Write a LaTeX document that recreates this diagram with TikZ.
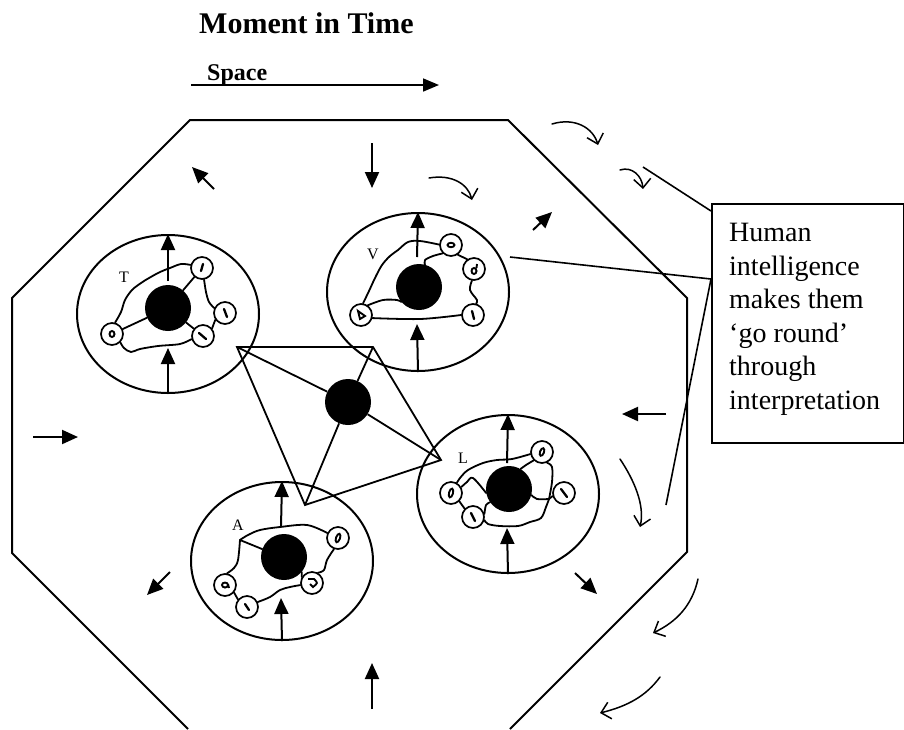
\documentclass[tikz,border=0pt]{standalone}
\usepackage{fontspec}
\setmainfont{Liberation Serif}
\usetikzlibrary{arrows.meta,shapes.geometric,calc}
\begin{document}
\begin{tikzpicture}[x=1pt,y=-1pt,
  frame/.style={line width=2pt, line join=miter},
  cell/.style={ellipse, draw, line width=2pt, minimum width=182pt, minimum height=158pt, inner sep=0pt},
  core/.style={circle, fill=black, minimum size=46pt, inner sep=0pt},
  bead/.style={circle, draw, fill=white, line width=1.7pt, minimum size=22pt, inner sep=0pt},
  wire/.style={line width=1.8pt, line join=round, line cap=round},
  glyph/.style={line width=2.3pt, line cap=round},
  loopy/.style={line width=1.9pt},
  push/.style={line width=2pt, -{Triangle[length=16pt,width=14pt]}},
  swirl/.style={line width=1.5pt, line cap=round, -{Straight Barb[length=9pt,width=17pt]}},
  tag/.style={font=\fontsize{16}{19}\selectfont, inner sep=0pt},
  lead/.style={line width=1.6pt},
]
\useasboundingbox (0,0) rectangle (904,729);

% heading and the space axis
\node[anchor=base west, inner sep=0pt, font=\fontsize{30}{35}\selectfont\bfseries] (title) at (199,33) {Moment in Time};
\node[anchor=base west, inner sep=0pt, font=\fontsize{24}{28}\selectfont\bfseries] (space) at (207,80) {Space};
\coordinate (axisL) at (191,85);
\coordinate (axisR) at (439,85);
\draw[line width=1.7pt, -{Triangle[length=16pt,width=13pt]}] (axisL) -- (axisR);

% octagonal boundary (open at the bottom edge)
\draw[frame] (188,729) -- (12,553) -- (12,298) -- (190,120) -- (508,120)
  -- (687,298) -- (687,552) -- (510,729);

% the four cells
\node[cell] (T) at (168,314) {};
\node[cell] (V) at (418,292) {};
\node[cell] (L) at (508,494) {};
\node[cell] (A) at (282,561) {};

% cores
\node[core] (Tc) at (168,308) {};
\node[core] (Vc) at (419,287) {};
\node[core] (Lc) at (509,489) {};
\node[core] (Ac) at (284,557) {};
\node[core] (hub) at (348,402) {};

% cell labels
\node[tag] (Tl) at (124,277) {T};
\node[tag] (Vl) at (373,254) {V};
\node[tag] (Ll) at (463,458) {L};
\node[tag] (Al) at (238,525) {A};

% beads
\node[bead] (T1) at (202,268) {};
\node[bead] (T2) at (225,313) {};
\node[bead] (T3) at (203,336) {};
\node[bead] (T4) at (112,334) {};
\node[bead] (V1) at (451,245) {};
\node[bead] (V2) at (474,269) {};
\node[bead] (V3) at (473,315) {};
\node[bead] (V4) at (361,315) {};
\node[bead] (L1) at (542,452) {};
\node[bead] (L2) at (451,493) {};
\node[bead] (L3) at (473,517) {};
\node[bead] (L4) at (564,493) {};
\node[bead] (A1) at (338,538) {};
\node[bead] (A2) at (225,585) {};
\node[bead] (A3) at (247,607) {};
\node[bead] (A4) at (312,583) {};

% marks inside the beads
\draw[glyph] ($(T1)+(1,-4)$) -- ($(T1)+(-1,3)$);
\draw[glyph] ($(T2)+(-1,-4)$) -- ($(T2)+(2,4)$);
\draw[glyph] ($(T3)+(-4,-3)$) -- ($(T3)+(3,3)$);
\draw[loopy] (T4) ellipse (2.5pt and 3pt);
\draw[loopy] (V1) ellipse (3.5pt and 2.2pt);
\draw[loopy] ($(V2)+(0,2)$) ellipse (2.5pt and 3pt) ($(V2)+(2.5,-1)$) -- ($(V2)+(3,-5)$);
\draw[glyph] ($(V3)+(-1,-4)$) -- ($(V3)+(1,4)$);
\draw[loopy] ($(V4)+(-3,-4)$) -- ($(V4)+(4,1)$) -- ($(V4)+(-1,4)$) -- cycle;
\draw[loopy, rotate around={-20:(L1)}] (L1) ellipse (2pt and 4pt);
\draw[loopy, rotate around={-15:(L2)}] (L2) ellipse (2pt and 4.5pt);
\draw[glyph] ($(L3)+(-2,-4)$) -- ($(L3)+(2,4)$);
\draw[glyph] ($(L4)+(-3,-4)$) -- ($(L4)+(3,4)$);
\draw[loopy, rotate around={-20:(A1)}] (A1) ellipse (2pt and 4.5pt);
\draw[loopy] (A2) ellipse (3pt and 2.5pt) ($(A2)+(3,-1)$) -- ($(A2)+(4,3)$);
\draw[glyph] ($(A3)+(-2,-3)$) -- ($(A3)+(2,3)$);
\draw[loopy] ($(A4)+(-4,-4)$) -- ($(A4)+(2,-4)$) .. controls ($(A4)+(6,0)$) .. ($(A4)+(1,4)$) -- ($(A4)+(-2,1)$);

% wiring in cell T
\draw[wire] plot[smooth, tension=0.55] coordinates {(T4.75) (121,312) (125,300) (132,290) (141,283) (149,278) (160,272) (170,268) (181,264) (T1.165)};
\draw[wire] plot[smooth, tension=0.55] coordinates {(T1.-80) (206,292) (209,302) (T2.155)};
\draw[wire] (T2.215) -- (T3.40);
\draw[wire] plot[smooth, tension=0.55] coordinates {(T3.195) (180,344) (158,346) (140,349) (131,352) (124,348) (T4.-45)};
\draw[wire] (Tc) -- (T4);
\draw[wire] (Tc) -- (T1);
\draw[wire] (Tc) -- (T3);

% wiring in cell V
\draw[wire] plot[smooth, tension=0.55] coordinates {(V4.80) (369,291) (375,278) (382,265) (390,256) (398,250) (408,242) (420,241) (V1.178)};
\draw[wire] plot[smooth, tension=0.55] coordinates {(V1.225) (433,256) (425,260) (Vc.75)};
\draw[wire] (V1.-55) -- (V2.125);
\draw[wire] plot[smooth, tension=0.55] coordinates {(V2.-100) (470,290) (477,300) (V3.75)};
\draw[wire] plot[smooth, tension=0.55] coordinates {(V3.180) (420,319) (V4.-15)};
\draw[wire] plot[smooth, tension=0.55] coordinates {(V4.55) (383,300) (397,300) (Vc.220)};

% wiring in cell L
\coordinate (Lj) at (549,499);
\draw[wire] plot[smooth, tension=0.55] coordinates {(L2.60) (460,478) (468,470) (483,463) (497,460) (512,459) (L1.190)};
\draw[wire] plot[smooth, tension=0.55] coordinates {(Lc.60) (526,465) (L1.225)};
\draw[wire] plot[smooth, tension=0.55] coordinates {(L1.-65) (552,467) (552,482) (Lj)};
\draw[wire] (Lj) -- (L4.195);
\draw[wire] plot[smooth, tension=0.55] coordinates {(Lj) (537,499) (Lc.-15)};
\draw[wire] plot[smooth, tension=0.55] coordinates {(Lj) (546,507) (541,518) (530,522) (518,526) (500,526) (488,524) (L3.-15)};
\draw[wire] plot[smooth, tension=0.55] coordinates {(L2.30) (467,482) (473,478) (Lc.190)};
\draw[wire] (L2.-45) -- (L3.135);
\draw[wire] plot[smooth, tension=0.55] coordinates {(L3.15) (486,505) (Lc.215)};

% wiring in cell A
\coordinate (Aj) at (240,540);
\draw[wire] (Aj) -- (Ac.160);
\draw[wire] plot[smooth, tension=0.55] coordinates {(Aj) (248,535) (260,530) (280,527) (307,525) (A1.155)};
\draw[wire] plot[smooth, tension=0.55] coordinates {(Aj) (238,560) (234,568) (A2.80)};
\draw[wire] plot[smooth, tension=0.55] coordinates {(A1.-110) (327,560) (324,570) (A4.60)};
\draw[wire] (A4.150) -- (Ac.-40);
\draw[wire] plot[smooth, tension=0.55] coordinates {(A4.190) (290,587) (280,590) (270,597) (A3.25)};
\draw[wire] (A2.-40) -- (A3.140);

% arrows through each cell
\coordinate (Tin) at (168,348);  \coordinate (Tout) at (168,281);
\coordinate (Vin) at (417,324);  \coordinate (Vout) at (417,257);
\coordinate (Lin) at (507,528);  \coordinate (Lout) at (507,463);
\coordinate (Ain) at (281,598);  \coordinate (Aout) at (281,527);
\draw[push] (T.south) -- (Tin);  \draw[push] (Tout) -- (T.north);
\draw[push] (V.south) -- (Vin);  \draw[push] (Vout) -- (V.north);
\draw[push] (L.south) -- (Lin);  \draw[push] (Lout) -- (L.north);
\draw[push] (A.south) -- (Ain);  \draw[push] (Aout) -- (A.north);

% central linking frame
\coordinate (q1) at (237,347);
\coordinate (q2) at (373,347);
\coordinate (q3) at (441,460);
\coordinate (q4) at (305,505);
\draw[line width=1.8pt, line join=miter] (q1) -- (q2) -- (q3) -- (q4) -- cycle;
\draw[line width=1.8pt] (hub) -- (q1) (hub) -- (q2) (hub) -- (q3) (hub) -- (q4);

% short flow arrows inside the boundary
\coordinate (f1a) at (214,189); \coordinate (f1b) at (192,167);
\coordinate (f2a) at (372,143); \coordinate (f2b) at (372,188);
\coordinate (f3a) at (533,230); \coordinate (f3b) at (552,212);
\coordinate (f4a) at (666,414); \coordinate (f4b) at (622,414);
\coordinate (f5a) at (575,573); \coordinate (f5b) at (597,594);
\coordinate (f6a) at (33,437);  \coordinate (f6b) at (78,437);
\coordinate (f7a) at (170,572); \coordinate (f7b) at (147,595);
\coordinate (f8a) at (372,709); \coordinate (f8b) at (372,663);
\draw[push] (f1a) -- (f1b);
\draw[push] (f2a) -- (f2b);
\draw[push] (f3a) -- (f3b);
\draw[push] (f4a) -- (f4b);
\draw[push] (f5a) -- (f5b);
\draw[push] (f6a) -- (f6b);
\draw[push] (f7a) -- (f7b);
\draw[push] (f8a) -- (f8b);

% circling strokes around the boundary
\coordinate (s1a) at (552,124); \coordinate (s1b) at (598,145);
\coordinate (s2a) at (620,170); \coordinate (s2b) at (643,189);
\coordinate (s3a) at (429,178); \coordinate (s3b) at (472,200);
\coordinate (s4a) at (620,459); \coordinate (s4b) at (640,527);
\coordinate (s5a) at (698,579); \coordinate (s5b) at (653,633);
\coordinate (s6a) at (660,677); \coordinate (s6b) at (600,713);
\draw[swirl] (s1a) .. controls (575,117) and (593,128) .. (s1b);
\draw[swirl] (s2a) .. controls (632,166) and (642,176) .. (s2b);
\draw[swirl] (s3a) .. controls (452,174) and (468,184) .. (s3b);
\draw[swirl] (s4a) .. controls (634,480) and (645,505) .. (s4b);
\draw[swirl] (s5a) .. controls (692,606) and (676,622) .. (s5b);
\draw[swirl] (s6a) .. controls (646,696) and (628,706) .. (s6b);

% annotation box and its leader lines
\node[draw, line width=2pt, anchor=north west, minimum width=192pt, minimum height=239pt, inner sep=0pt] (box) at (711,203) {};
\node[anchor=north west, align=left, inner sep=0pt, font=\fontsize{28}{33.6}\selectfont] (note) at (729,223)
  {Human\\intelligence\\makes them\\‘go round’\\through\\interpretation};
\coordinate (boxA) at (711,211);
\coordinate (boxB) at (711,279);
\coordinate (leadA) at (643,167);
\coordinate (leadB) at (510,257);
\coordinate (leadC) at (666,505);
\draw[lead] (leadA) -- (boxA);
\draw[lead] (leadB) -- (boxB);
\draw[lead] (boxB) -- (leadC);
\end{tikzpicture}
\end{document}
